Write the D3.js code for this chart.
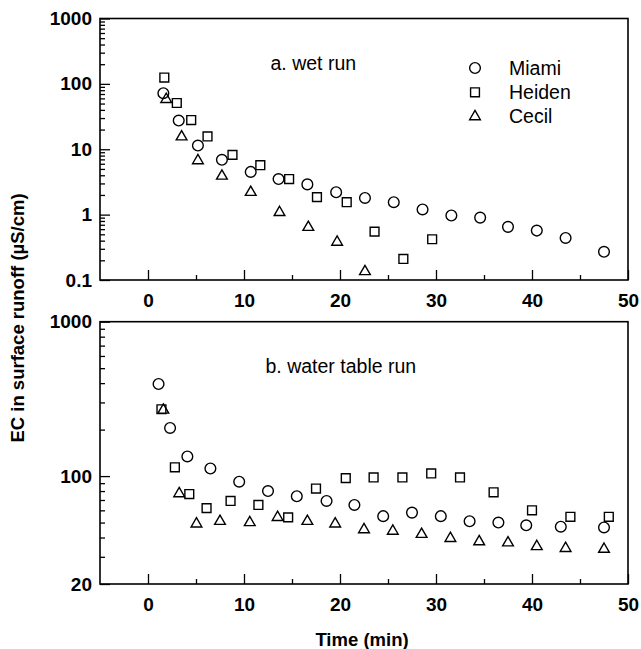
<!DOCTYPE html>
<html>
<head>
<meta charset="utf-8">
<script src="https://cdn.jsdelivr.net/npm/d3@7"></script>
<style>
body { margin: 0; background: #fff; }
text { fill: #000; }
</style>
</head>
<body>
<script>
// series shown in both panels
const seriesNames = ["Miami", "Heiden", "Cecil"];

// a. wet run
const wetMiamiTime = [1.6, 3.2, 5.2, 7.7, 10.7, 13.6, 16.6, 19.6, 22.6, 25.6, 28.6, 31.6, 34.6, 37.5, 40.5, 43.5, 47.5];
const wetMiamiEC = [72, 27.5, 11.4, 6.9, 4.5, 3.5, 2.9, 2.2, 1.8, 1.55, 1.2, 0.97, 0.9, 0.65, 0.57, 0.44, 0.27];
const wetHeidenTime = [1.7, 3.0, 4.5, 6.2, 8.8, 11.7, 14.7, 17.6, 20.7, 23.6, 26.6, 29.6];
const wetHeidenEC = [125, 51, 28, 15.7, 8.2, 5.7, 3.5, 1.85, 1.55, 0.55, 0.21, 0.42];
const wetCecilTime = [1.9, 3.5, 5.2, 7.7, 10.7, 13.7, 16.7, 19.7, 22.6];
const wetCecilEC = [58, 15.5, 6.7, 3.9, 2.2, 1.08, 0.64, 0.38, 0.135];

// b. water table run
const wtMiamiTime = [1.1, 2.3, 4.1, 6.5, 9.5, 12.5, 15.5, 18.6, 21.5, 24.5, 27.5, 30.5, 33.5, 36.5, 39.4, 43.0, 47.5];
const wtMiamiEC = [395, 205, 134, 112, 92, 80, 74, 69, 65, 55, 58, 55, 51, 50, 48, 47, 46.5];
const wtHeidenTime = [1.4, 2.8, 4.3, 6.1, 8.6, 11.5, 14.6, 17.5, 20.6, 23.5, 26.5, 29.5, 32.5, 36.0, 40.0, 44.0, 48.0];
const wtHeidenEC = [271, 114, 76.5, 62, 69, 65, 54, 83, 97, 98, 98, 104, 98, 78.5, 60, 54.5, 54.5];
const wtCecilTime = [1.6, 3.25, 5.05, 7.5, 10.6, 13.5, 16.6, 19.5, 22.5, 25.5, 28.5, 31.5, 34.5, 37.5, 40.5, 43.5, 47.5];
const wtCecilEC = [268, 77, 49, 51, 50, 54, 51, 49, 45, 44, 42, 39.5, 37.6, 37, 35, 34, 33.6];

// axis ticks
const timeDomain = [-5, 50];
const timeMajor = [0, 10, 20, 30, 40, 50];
const timeMinor = [5, 15, 25, 35, 45];
const wetDomain = [0.1, 1000];
const wetMajor = [0.1, 1, 10, 100, 1000];
const wtDomain = [20, 1000];
const wtMajor = [20, 100, 1000];

const font = "'Liberation Sans', Arial, Helvetica, sans-serif";

const svg = d3.select("body").append("svg")
  .attr("width", 641)
  .attr("height", 649)
  .style("font-family", font);

const left = 100, right = 628;

const symbols = {
  Miami: d3.symbol().type(d3.symbolCircle).size(90),
  Heiden: d3.symbol().type(d3.symbolSquare).size(78),
  Cecil: d3.symbol().type(d3.symbolTriangle).size(50)
};

const panels = [
  {
    top: 18.5, bottom: 280, domain: wetDomain, major: wetMajor,
    label: "a. wet run", labelX: 270.5, labelY: 70, legend: true,
    series: [[wetMiamiTime, wetMiamiEC], [wetHeidenTime, wetHeidenEC], [wetCecilTime, wetCecilEC]]
  },
  {
    top: 321.7, bottom: 584, domain: wtDomain, major: wtMajor,
    label: "b. water table run", labelX: 265.5, labelY: 373, legend: false,
    series: [[wtMiamiTime, wtMiamiEC], [wtHeidenTime, wtHeidenEC], [wtCecilTime, wtCecilEC]]
  }
];

panels.forEach(p => {
  const x = d3.scaleLinear().domain(timeDomain).range([left, right]);
  const y = d3.scaleLog().domain(p.domain).range([p.bottom, p.top]);
  const g = svg.append("g");

  // minor ticks, no labels
  const yMinor = y.ticks().filter(v => !p.major.some(m => Math.abs(m - v) < 1e-9));
  g.append("g")
    .attr("transform", `translate(${left},0)`)
    .call(d3.axisLeft(y).tickValues(yMinor).tickSize(-5).tickFormat(""))
    .call(a => a.select(".domain").remove());
  g.append("g")
    .attr("transform", `translate(0,${p.bottom})`)
    .call(d3.axisBottom(x).tickValues(timeMinor).tickSize(-5).tickFormat(""))
    .call(a => a.select(".domain").remove());

  // major ticks with labels
  g.append("g")
    .attr("transform", `translate(${left},0)`)
    .call(d3.axisLeft(y).tickValues(p.major).tickSize(-10).tickPadding(8).tickFormat(d => String(d)))
    .call(a => a.select(".domain").remove())
    .call(a => a.selectAll("text").style("font-family", font).style("font-size", "19px").style("font-weight", "bold"));
  g.append("g")
    .attr("transform", `translate(0,${p.bottom})`)
    .call(d3.axisBottom(x).tickValues(timeMajor).tickSize(-10).tickPadding(14).tickFormat(d3.format("d")))
    .call(a => a.select(".domain").remove())
    .call(a => a.selectAll("text").style("font-family", font).style("font-size", "19px").style("font-weight", "bold"));

  g.selectAll(".tick line").attr("stroke", "#000").attr("stroke-width", 1.3);

  // frame
  g.append("rect")
    .attr("x", left).attr("y", p.top)
    .attr("width", right - left).attr("height", p.bottom - p.top)
    .attr("fill", "none").attr("stroke", "#000").attr("stroke-width", 1.6);

  // points
  p.series.forEach(([ts, vs], i) => {
    const name = seriesNames[i];
    g.append("g").selectAll("path")
      .data(ts.map((t, k) => [t, vs[k]]))
      .join("path")
      .attr("transform", d => `translate(${x(d[0])},${y(d[1])})`)
      .attr("d", symbols[name])
      .attr("fill", "none")
      .attr("stroke", "#000")
      .attr("stroke-width", 1.4);
  });

  // panel label
  g.append("text")
    .attr("x", p.labelX).attr("y", p.labelY)
    .style("font-size", "19.5px")
    .text(p.label);

  if (p.legend) {
    const lg = g.append("g").attr("transform", "translate(475,68)");
    seriesNames.forEach((name, i) => {
      lg.append("path")
        .attr("transform", `translate(0,${i * 24.3})`)
        .attr("d", symbols[name])
        .attr("fill", "none").attr("stroke", "#000").attr("stroke-width", 1.4);
      lg.append("text")
        .attr("x", 34).attr("y", i * 24.3 + 6.5)
        .style("font-size", "19.5px")
        .text(name);
    });
  }
});

// axis titles
svg.append("text")
  .attr("transform", "translate(24,318) rotate(-90)")
  .attr("text-anchor", "middle")
  .style("font-size", "18.5px")
  .style("font-weight", "bold")
  .text("EC in surface runoff (µS/cm)");

svg.append("text")
  .attr("x", 362).attr("y", 646)
  .attr("text-anchor", "middle")
  .style("font-size", "18.5px")
  .style("font-weight", "bold")
  .text("Time (min)");
</script>
</body>
</html>
